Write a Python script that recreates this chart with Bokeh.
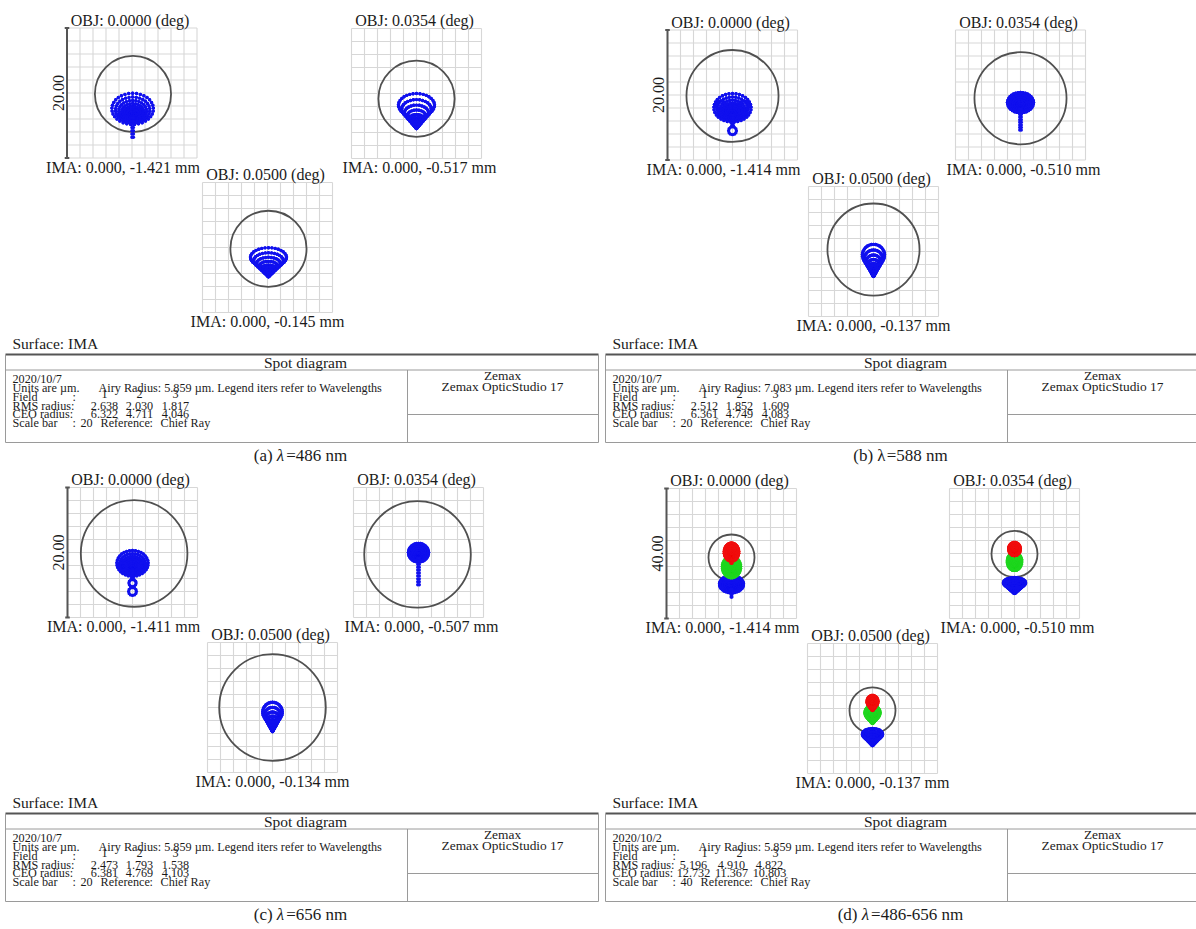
import numpy as np
from bokeh.plotting import figure
from bokeh.models import Range1d
from bokeh.core.properties import value
from bokeh.embed import file_html
from bokeh.resources import INLINE

W, H = 1196, 929
SERIF = "Liberation Serif"

# ---------------------------------------------------------------- data
panel_tags = ["(a)", "(b)", "(c)", "(d)"]
wavelength_labels = ["=486 nm", "=588 nm", "=656 nm", "=486-656 nm"]
lambda_italic = [True, False, True, True]
obj_fields_deg = ["0.0000", "0.0354", "0.0500"]
ima_y_mm = [[-1.421, -0.517, -0.145],
            [-1.414, -0.510, -0.137],
            [-1.411, -0.507, -0.134],
            [-1.414, -0.510, -0.137]]
report_dates = ["2020/10/7", "2020/10/7", "2020/10/7", "2020/10/2"]
airy_radius_text_um = [5.859, 7.083, 5.859, 5.859]
airy_radius_drawn_um = [5.859, 7.083, 8.2, 7.083]
rms_radius_um = [[2.638, 2.030, 1.817],
                 [2.512, 1.852, 1.609],
                 [2.473, 1.793, 1.538],
                 [5.196, 4.910, 4.822]]
ceo_radius_um = [[6.322, 4.711, 4.046],
                 [6.361, 4.749, 4.083],
                 [6.381, 4.769, 4.103],
                 [12.732, 11.367, 10.803]]
scale_bar_um = [20, 20, 20, 40]

# Airy circle centre relative to the plot centre (µm), per field
airy_centre_a = [(0.15, -0.15), (0.0, -0.8), (0.15, -0.2)]
airy_centre_b = [(0.0, -0.15), (0.0, -0.5), (0.0, 0.3)]
airy_centre_c = [(0.25, -0.15), (-0.15, -0.3), (0.0, 0.0)]
airy_centre_d = [(0.0, -1.23), (0.0, -0.15), (0.0, -0.6)]

# ray-fan heads: (wavelength, vertex x, vertex y, size R, x stretch, ring offset) in µm
heads_a = [[("F", 0.1, -3.4, 2.4, 1.33, 0.4)],
           [("F", 0.0, -5.4, 1.8, 1.54, 2.0)],
           [("F", 0.15, -4.5, 1.49, 1.86, 2.0)]]
heads_b = [[("F", 0.0, -2.85, 2.2, 1.3, 0.4)],
           [("F", 0.0, -1.8, 1.57, 1.27, 0.4)],
           [("F", 0.0, -3.85, 1.65, 1.03, 2.0)]]
heads_c = [[("F", 0.0, -2.46, 1.98, 1.21, 0.4)],
           [("F", 0.0, -0.6, 1.43, 1.08, 0.4)],
           [("F", 0.0, -3.7, 1.5, 1.0, 2.0)]]
heads_d = [[("d", 0.0, -6.15, 3.3, 0.85, 0.6), ("C", 0.0, -1.23, 2.8, 0.8, 0.6),
            ("F", 0.0, -10.5, 2.64, 1.4, 0.4)],
           [("d", 0.0, -5.2, 2.77, 0.8, 1.0), ("C", 0.0, -0.6, 2.0, 0.9, 1.0),
            ("F", 0.0, -12.3, 1.64, 2.07, 2.0)],
           [("d", 0.0, -4.6, 2.2, 1.05, 1.5), ("C", 0.0, -0.6, 1.85, 0.9, 1.5),
            ("F", 0.0, -11.4, 1.75, 1.77, 2.0)]]

# ray tails below the heads: (wavelength, x, list of y) in µm
stems_a = [[("F", 0.1, [-3.8, -4.3, -4.8, -5.3, -5.8, -6.3, -6.8])], [], []]
stems_b = [[("F", 0.0, [-3.1, -3.5, -3.9, -4.3, -4.7])],
           [("F", 0.0, [-2.2, -2.6, -3.0, -3.4, -3.8, -4.2, -4.6, -5.0, -5.4])], []]
stems_c = [[("F", 0.0, [-2.8, -3.2, -3.6, -4.0])],
           [("F", 0.0, [-0.9, -1.35, -1.8, -2.25, -2.7, -3.15, -3.6, -4.05, -4.5, -4.95])], []]
stems_d = [[("F", 0.0, [-11.0, -11.8, -12.6, -13.4]), ("C", 0.0, [-2.2, -3.0])], [], []]

# small closed ray loops: (wavelength, x, y, radius) in µm
loops_a = [[], [], []]
loops_b = [[("F", -1.85, -1.6, 0.7), ("F", 1.85, -1.6, 0.7), ("F", 0.0, -5.5, 0.6)], [], []]
loops_c = [[("F", -1.46, -2.15, 0.6), ("F", 1.6, -2.15, 0.6), ("F", 0.0, -4.7, 0.55),
            ("F", 0.0, -6.0, 0.6)], [], []]
loops_d = [[], [], []]

airy_centres = [airy_centre_a, airy_centre_b, airy_centre_c, airy_centre_d]
heads = [heads_a, heads_b, heads_c, heads_d]
stems = [stems_a, stems_b, stems_c, stems_d]
loops = [loops_a, loops_b, loops_c, loops_d]

# ---------------------------------------------------------------- layout / style
WAVE_COLOURS = {"F": "#1010ee", "d": "#1ed61e", "C": "#f00d0d"}
BOX_PX = 130.0
plot_centres = [[(131.5, 92.5), (416.0, 93.0), (267.0, 247.0)],
                [(732.0, 94.5), (1020.0, 94.5), (873.0, 251.0)],
                [(132.0, 552.0), (418.0, 552.0), (272.0, 707.0)],
                [(731.0, 553.0), (1014.0, 553.0), (872.0, 708.0)]]
ima_dx = [-9, 3, 0]
panel_origins = [(0, 0), (600, 0), (0, 459), (600, 459)]

p = figure(width=W, height=H, x_range=Range1d(0, W), y_range=Range1d(H, 0),
           output_backend="svg", toolbar_location=None, min_border=0,
           x_axis_location=None, y_axis_location=None)
p.grid.visible = False
p.outline_line_color = None
p.background_fill_color = "white"
p.border_fill_color = "white"

# text collected by style, drawn at the end
text_groups = {}


def txt(x, y, s, size, align="center", style="normal", angle=0.0, colour="#1b1b1b"):
    key = (size, align, style, angle, colour)
    g = text_groups.setdefault(key, {"x": [], "y": [], "t": []})
    g["x"].append(x)
    g["y"].append(y)
    g["t"].append(s)


CHAR_W = {"(": .333, ")": .333, "a": .444, "b": .5, "c": .444, "d": .5, " ": .25,
          "=": .564, "-": .333, "n": .5, "m": .778, "λ": .55}


def text_width(s, size):
    return sum(CHAR_W.get(ch, 0.5) for ch in s) * size


def fan_points(vx, vy, R, a, b, n=11):
    xs, ys = [np.array([vx])], [np.array([vy])]
    for j in range(1, n + 1):
        r2 = (j / n) ** 2
        th = 2 * np.pi * np.arange(6 * j) / (6 * j)
        xs.append(vx + a * R * r2 * np.sin(2 * th))
        ys.append(vy + R * r2 * (b + np.cos(2 * th)))
    return np.concatenate(xs), np.concatenate(ys)


for pi_, (ox, oy) in enumerate(panel_origins):
    sb = scale_bar_um[pi_]
    k = BOX_PX / sb
    half = sb / 2.0
    for fi in range(3):
        cx, cy = plot_centres[pi_][fi]
        name = "s%d%d" % (pi_, fi)
        p.extra_x_ranges[name] = Range1d(-cx / k, (W - cx) / k)
        p.extra_y_ranges[name] = Range1d((cy - H) / k, cy / k)
        rn = dict(x_range_name=name, y_range_name=name)

        # grid of the spot plot
        ticks = np.linspace(-half, half, 11)
        gx = [[t, t] for t in ticks] + [[-half, half] for t in ticks]
        gy = [[-half, half] for t in ticks] + [[t, t] for t in ticks]
        p.multi_line(gx, gy, line_color="#d7d7d7", line_width=1.1, **rn)

        # scale bar on the first field only
        if fi == 0:
            cap = 0.35 * sb / 20
            p.segment(x0=[-half, -half - cap, -half - cap], y0=[-half, half, -half],
                      x1=[-half, -half + cap, -half + cap], y1=[half, half, -half],
                      line_color="#555555", line_width=2, **rn)
            txt(cx - BOX_PX / 2 - 9, cy, "%.2f" % sb, "16px", angle=np.pi / 2)

        # Airy disc
        ax, ay = airy_centres[pi_][fi]
        p.circle(x=[ax], y=[ay], radius=airy_radius_drawn_um[pi_], fill_color=None,
                 line_color="#505050", line_width=1.8, **rn)

        # ray intercepts, grouped by wavelength
        pts = {}
        for (w, vx, vy, R, a, b) in heads[pi_][fi]:
            xx, yy = fan_points(vx, vy, R, a, b)
            pts.setdefault(w, []).append((xx, yy))
        for (w, sx, sys_) in stems[pi_][fi]:
            yy = np.repeat(np.array(sys_, dtype=float), 2)
            xx = np.tile([sx - 0.12, sx + 0.12], len(sys_))
            pts.setdefault(w, []).append((xx, yy))
        for (w, lx, ly, lr) in loops[pi_][fi]:
            th = 2 * np.pi * np.arange(12) / 12
            pts.setdefault(w, []).append((lx + lr * np.sin(th), ly + lr * np.cos(th)))
        for w in ["F", "d", "C"]:
            if w not in pts:
                continue
            xx = np.concatenate([q[0] for q in pts[w]])
            yy = np.concatenate([q[1] for q in pts[w]])
            p.scatter(xx, yy, size=3.4, fill_color=WAVE_COLOURS[w], line_color=None, **rn)

        txt(cx - 2, cy - BOX_PX / 2 - 8, "OBJ: %s (deg)" % obj_fields_deg[fi], "16px")
        txt(cx + ima_dx[fi], cy + BOX_PX / 2 + 9,
            "IMA: 0.000, %.3f mm" % ima_y_mm[pi_][fi], "16px")

    # ---------------- report table
    x0, x1 = ox + 5, min(ox + 598, W + 2)
    xs = ox + 407
    txt(ox + 12, oy + 343, "Surface: IMA", "15.5px", align="left")
    p.segment(x0=[x0], y0=[oy + 354], x1=[x1], y1=[oy + 354], line_color="#555555", line_width=2)
    p.segment(x0=[x0, x0, x0, x1, xs, xs],
              y0=[oy + 369.5, oy + 442, oy + 354, oy + 354, oy + 369.5, oy + 414],
              x1=[x1, x1, x0, x1, xs, x1],
              y1=[oy + 369.5, oy + 442, oy + 442, oy + 442, oy + 442, oy + 414],
              line_color="#9a9a9a", line_width=1)
    txt(ox + 305, oy + 362, "Spot diagram", "15.5px")
    txt(ox + 502, oy + 375, "Zemax", "13.4px")
    txt(ox + 502, oy + 386, "Zemax OpticStudio 17", "13.4px")

    fs = "12.2px"
    L = ox + 12
    txt(L, oy + 378, report_dates[pi_], fs, align="left")
    txt(L, oy + 387, "Units are µm.", fs, align="left")
    txt(ox + 98, oy + 387, "Airy Radius: %.3f µm. Legend iters refer to Wavelengths"
        % airy_radius_text_um[pi_], fs, align="left")
    txt(L, oy + 396, "Field", fs, align="left")
    txt(ox + 72, oy + 396, ":", fs, align="left")
    cols = [104, 139, 175] if pi_ < 3 else [93, 131, 169]
    for j in range(3):
        txt(ox + [104, 139, 175][j], oy + 393, str(j + 1), fs)
        txt(ox + cols[j], oy + 405, "%.3f" % rms_radius_um[pi_][j], fs)
        txt(ox + cols[j], oy + 413.5, "%.3f" % ceo_radius_um[pi_][j], fs)
    txt(L, oy + 405, "RMS radius:", fs, align="left")
    txt(L, oy + 413.5, "CEO radius:", fs, align="left")
    txt(L, oy + 422, "Scale bar", fs, align="left")
    txt(ox + 72, oy + 422, ":", fs, align="left")
    txt(ox + 80, oy + 422, "%d" % scale_bar_um[pi_], fs, align="left")
    txt(ox + 100, oy + 422, "Reference", fs, align="left")
    txt(ox + 149, oy + 422, ":", fs, align="left")
    txt(ox + 160, oy + 422, "Chief Ray", fs, align="left")

    # caption
    csz = 17
    parts = [panel_tags[pi_] + " ", "λ", wavelength_labels[pi_]]
    total = sum(text_width(s, csz) for s in parts)
    xpos = ox + 300 - total / 2
    for s, italic in zip(parts, [False, lambda_italic[pi_], False]):
        txt(xpos, oy + 455, s, "%dpx" % csz, align="left",
            style="italic" if italic else "normal")
        xpos += text_width(s, csz)

for (size, align, style, angle, colour), g in text_groups.items():
    p.text(g["x"], g["y"], text=g["t"], text_font=value(SERIF), text_font_size=size,
           text_align=align, text_baseline="middle", text_font_style=style,
           angle=angle, text_color=colour)

open("out.html", "w").write(file_html(p, INLINE))
